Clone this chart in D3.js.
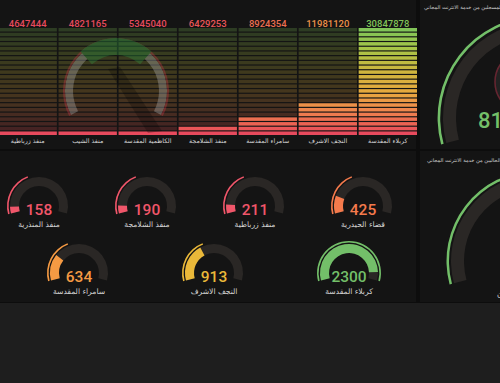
<!DOCTYPE html>
<html><head><meta charset="utf-8">
<script src="https://cdn.jsdelivr.net/npm/d3@7"></script>
<style>
html,body{margin:0;padding:0;background:#1e1e1e;overflow:hidden}
svg{display:block}
</style></head>
<body>
<script>
// ---------- data ----------
const barCategories = ["منفذ زرباطية","منفذ الشيب","الكاظمية المقدسة","منفذ الشلامجة","سامراء المقدسة","النجف الاشرف","كربلاء المقدسة"];
const barValues = [4647444, 4821165, 5345040, 6429253, 8924354, 11981120, 30847878];
const barDomain = [4400000, 30847878];

const gaugeRow1Labels = ["منفذ المنذرية","منفذ الشلامجة","منفذ زرباطية","قضاء الحيدرية"];
const gaugeRow1Values = [158, 190, 211, 425];
const gaugeRow2Labels = ["سامراء المقدسة","النجف الاشرف","كربلاء المقدسة"];
const gaugeRow2Values = [634, 913, 2300];
const gaugeDomain = [0, 2500];
const gaugeThresholds = [300, 500, 800, 1000];

const bigGaugeTitles = ["العدد الكلي للمسجلين من خدمة الانترنت المجاني","عدد المستخدمين الحاليين من خدمة الانترنت المجاني"];
const bigGaugeLabels = ["العدد الكلي","عدد المستخدمين الحاليين"];
const bigGaugeValues = [8126437];

// ---------- style ----------
const W = 500, H = 383;
const thresholdColors = ["#f0566a","#f47a4c","#f59a43","#eab839","#73bf69"];
const gradStops = [0, .12, .25, .4, .6, .8, 1];
const gradColors = ["#e6445f","#ec6652","#ee8a4c","#e6a83e","#cdb63e","#a8c447","#7cc45a"];
const trackColor = "#2a2725";
const numFont = "Roboto, 'Liberation Sans', sans-serif";
const arFont = "'DejaVu Sans', 'Noto Sans', sans-serif";

const svg = d3.select("body").append("svg").attr("width", W).attr("height", H);
svg.append("rect").attr("width", W).attr("height", H).attr("fill", "#1e1e1e");
svg.append("rect").attr("width", W).attr("height", 303).attr("fill", "#0d0d0d");

const panels = [[0,0,416,149],[0,151,416,151],[420,0,90,149],[420,151,90,151]];
svg.selectAll("rect.panel").data(panels).join("rect").attr("class","panel")
  .attr("x", d=>d[0]).attr("y", d=>d[1]).attr("width", d=>d[2]).attr("height", d=>d[3])
  .attr("fill", "#141414");

// ---------- bar gauge (retro LCD) ----------
const barTop = 28, barBottom = 135, nCells = 23;
const x = d3.scaleBand().domain(barCategories).range([-1.5, 417]).paddingInner(0.028);
const cellY = d3.scaleBand().domain(d3.range(nCells)).range([barBottom, barTop]).paddingInner(0.25);
const frac = d3.scaleLinear().domain(barDomain).range([0, 1]).clamp(true);
const grad = d3.scaleLinear().domain(gradStops).range(gradColors).interpolate(d3.interpolateRgb);

const barsG = svg.append("g");
barCategories.forEach((c, ci) => {
  const v = barValues[ci], f = frac(v);
  const g = barsG.append("g");
  g.selectAll("rect").data(d3.range(nCells)).join("rect")
    .attr("x", x(c)).attr("width", x.bandwidth())
    .attr("y", i => cellY(i)).attr("height", cellY.bandwidth())
    .attr("fill", i => grad((i + 0.5) / nCells))
    .attr("fill-opacity", i => (i / nCells < f) ? 1 : 0.23);
  const litTop = Math.max(0, Math.ceil(f * nCells) - 1);
  barsG.append("text").attr("x", x(c) + x.bandwidth()/2).attr("y", barTop - 1.5)
    .attr("text-anchor","middle").attr("font-family", numFont).attr("font-size", 9.5)
    .attr("font-weight", 500).attr("fill", grad((litTop + 0.5)/nCells)).text(d3.format("d")(v));
  barsG.append("text").attr("x", x(c) + x.bandwidth()/2).attr("y", barBottom + 8)
    .attr("text-anchor","middle").attr("font-family", arFont).attr("font-size", 6.3)
    .attr("fill", "#d6d6d6").text(c);
});

// watermark logo (decorative)
const deg = Math.PI/180;
const wm = svg.append("g").attr("transform","translate(116,91)").attr("opacity",0.33);
wm.append("path").attr("d", "M-8,-22 L4,-24 L46,40 L32,42 Z").attr("fill","#000").attr("opacity",0.7);
wm.append("path").attr("d", d3.arc().innerRadius(43).outerRadius(51).startAngle(-118*deg).endAngle(118*deg)()).attr("fill","#bdbdbd");
wm.append("path").attr("d", d3.arc().innerRadius(51).outerRadius(53).startAngle(-118*deg).endAngle(118*deg)()).attr("fill","#d23a4e");
wm.append("path").attr("d", d3.arc().innerRadius(36).outerRadius(53).startAngle(-42*deg).endAngle(42*deg)()).attr("fill","#2f9a45");

// ---------- gauges ----------
const gColor = d3.scaleThreshold().domain(gaugeThresholds).range(thresholdColors);
const ang = d3.scaleLinear().domain(gaugeDomain).range([-105*deg, 105*deg]).clamp(true);

function drawGauge(g, cx, cy, val, label, geo, opts) {
  const gg = g.append("g").attr("transform", `translate(${cx},${cy})`);
  const col = opts.color;
  gg.append("path").attr("d", d3.arc().innerRadius(geo.tr0).outerRadius(geo.tr1)
     .startAngle(-105*deg).endAngle(105*deg)()).attr("fill", trackColor);
  if (opts.fill) gg.append("path").attr("d", d3.arc().innerRadius(geo.tr0).outerRadius(geo.tr1)
     .startAngle(-105*deg).endAngle(opts.angle(val))()).attr("fill", col);
  gg.append("path").attr("d", d3.arc().innerRadius(geo.th0).outerRadius(geo.th1)
     .startAngle(-105*deg).endAngle(opts.thinEnd)()).attr("fill", col);
  if (val !== null) {
    const vt = gg.append("text").attr("y", geo.vy)
      .attr("font-family", numFont).attr("font-size", geo.vs).attr("font-weight", 500)
      .attr("fill", col).text(val);
    if (opts.valueX !== undefined) vt.attr("x", opts.valueX).attr("text-anchor","start");
    else vt.attr("text-anchor","middle");
  }
  if (label) gg.append("text").attr("y", geo.ly).attr("text-anchor","middle")
    .attr("font-family", arFont).attr("font-size", geo.ls).attr("fill", "#d6d6d6").text(label);
}

const smallGeo = {tr0:20, tr1:29, th0:30.4, th1:32, vy:9.3, vs:15.5, ly:20.5, ls:7.6};
const row1X = d3.scalePoint().domain(gaugeRow1Labels).range([39, 363]);
const row2X = d3.scalePoint().domain(gaugeRow2Labels).range([79, 349]);
const sg = svg.append("g");
gaugeRow1Labels.forEach((l, i) => {
  const v = gaugeRow1Values[i];
  drawGauge(sg, row1X(l), 206, v, l, smallGeo, {color:gColor(v), fill:true, angle:ang,
    thinEnd: v >= gaugeThresholds[3] ? 105*deg : ang(gaugeThresholds[3])});
});
gaugeRow2Labels.forEach((l, i) => {
  const v = gaugeRow2Values[i];
  drawGauge(sg, row2X(l), 273, v, l, smallGeo, {color:gColor(v), fill:true, angle:ang,
    thinEnd: v >= gaugeThresholds[3] ? 105*deg : ang(gaugeThresholds[3])});
});

// big gauges (right panels, clipped by the window)
const bg = svg.append("g");
bg.append("circle").attr("cx", 526).attr("cy", 82).attr("r", 31).attr("fill","#262626")
  .attr("stroke","#7a2a38").attr("stroke-width",1.6).attr("opacity",0.8);
drawGauge(bg, 540, 118, bigGaugeValues[0], null,
  {tr0:84, tr1:97, th0:99.8, th1:102.4, vy:10, vs:22}, {color:"#73bf69", fill:false, thinEnd:105*deg, valueX:-62});
drawGauge(bg, 537, 261, null, bigGaugeLabels[1],
  {tr0:73, tr1:86, th0:88, th1:90.5, ly:34.5, ls:7.6}, {color:"#73bf69", fill:false, thinEnd:105*deg});
// titles
bg.append("text").attr("x", 424).attr("y", 9).attr("font-family", arFont).attr("font-size", 5.1)
  .attr("fill", "#cfcfcf").attr("text-anchor","start").text(bigGaugeTitles[0]);
bg.append("text").attr("x", 427).attr("y", 162).attr("font-family", arFont).attr("font-size", 5.1)
  .attr("fill", "#cfcfcf").attr("text-anchor","start").text(bigGaugeTitles[1]);
</script>
</body></html>
